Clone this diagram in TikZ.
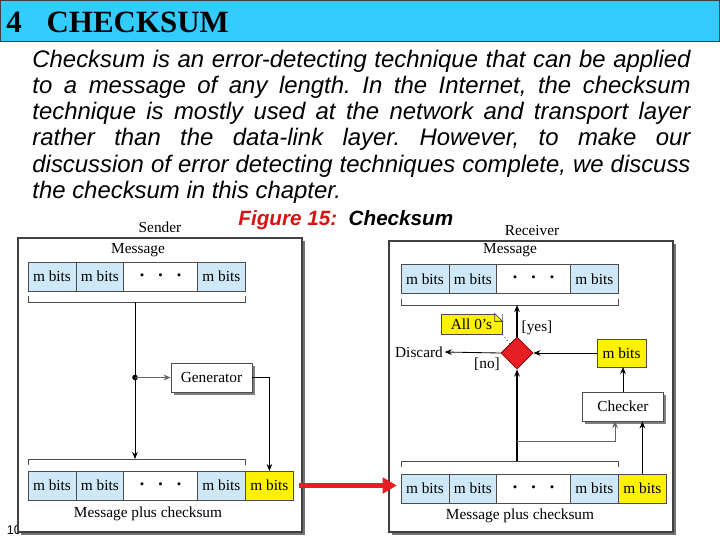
\documentclass[tikz,border=0pt]{standalone}
\usepackage{fontspec}
\setmainfont{Liberation Serif}
\setsansfont{Liberation Sans}
\usetikzlibrary{positioning, shapes.geometric, arrows.meta, shadows}
\frenchspacing

\definecolor{titleblue}{RGB}{51,204,255}
\definecolor{cellblue}{RGB}{207,232,247}
\definecolor{bityellow}{RGB}{255,242,0}
\definecolor{dmdred}{RGB}{232,30,36}
\definecolor{capred}{RGB}{215,20,20}

\newcommand{\diagfont}{\fontsize{10.9}{12}\selectfont}
\newcommand{\threedots}{\small\textbullet\hspace{10pt}\textbullet\hspace{10pt}\textbullet}

\tikzset{
  bitcell/.style={draw=black!70, fill=cellblue, minimum width=34.1pt, minimum height=20.6pt,
    inner sep=0pt, outer sep=0pt, font=\diagfont},
  dotcell/.style={bitcell, fill=white, minimum width=52.3pt},
  sumcell/.style={bitcell, fill=bityellow},
  procbox/.style={draw=black!70, fill=white, minimum width=57.6pt, minimum height=20.6pt,
    inner sep=0pt, font=\diagfont, drop shadow={shadow xshift=2pt, shadow yshift=-2pt, fill=black!50, opacity=1}},
  frame/.style={draw=black!75, fill=white, line width=0.8pt,
    drop shadow={shadow xshift=2.2pt, shadow yshift=-2.2pt, fill=black!55, opacity=1}},
  lbl/.style={font=\diagfont, inner sep=1pt},
}

\begin{document}
\begin{tikzpicture}[x=0.025cm, y=-0.025cm, >={Stealth[length=5pt,width=4pt]}, line width=0.6pt]
\useasboundingbox (0,0) rectangle (720,540);
% title bar
\draw[fill=titleblue, draw=black!75] (0.5,0.5) rectangle (719.5,41);
\node[anchor=base west, inner sep=0pt, font=\bfseries\fontsize{22}{24}\selectfont] (title) at (6,32) {4\hspace{0.8em}CHECKSUM};
% text
\node[anchor=base west, inner sep=0pt, text width=468pt, align=justify,
  font=\sffamily\itshape\fontsize{17}{18.7}\selectfont] (intro) at (32,67)
  {Checksum is an error-detecting technique that can be applied\linebreak
   to a message of any length. In the Internet, the checksum\linebreak
   technique is mostly used at the network and transport layer\linebreak
   rather than the data-link layer. However, to make our\linebreak
   discussion of error detecting techniques complete, we discuss\linebreak
   the checksum in this chapter.};
\node[anchor=base west, inner sep=0pt, font=\sffamily\bfseries\itshape\fontsize{14.7}{16}\selectfont] (caption) at (238,225)
  {\textcolor{capred}{Figure 15:}\ \ Checksum};
% page number
\node[font=\sffamily\fontsize{9}{10}\selectfont, inner sep=0pt] (pagenum) at (14,530) {10};

% sender
\draw[frame] (18,238) rectangle (302,532);
\node[lbl] (sender) at (160,227) {Sender};
\node[lbl] (smsg) at (138,250) {Message};
\node[bitcell, anchor=west] (sm1) at (28,276.5) {m bits};
\node[bitcell, right=0pt of sm1] (sm2) {m bits};
\node[dotcell, right=0pt of sm2] (sdots) {\threedots};
\node[bitcell, right=0pt of sdots] (sm3) {m bits};
\coordinate (sbl) at (28,302);
\coordinate (sbr) at (245.5,302);
\coordinate (stap) at (135,302);
\draw[draw=black!70] (sbl) ++(0,-6) -- (sbl) -- (sbr) -- ++(0,-6);
% sender, message plus checksum
\node[bitcell, anchor=west] (sb1) at (28,485.5) {m bits};
\node[bitcell, right=0pt of sb1] (sb2) {m bits};
\node[dotcell, right=0pt of sb2] (sbdots) {\threedots};
\node[bitcell, right=0pt of sbdots] (sb3) {m bits};
\node[sumcell, right=0pt of sb3] (sck) {m bits};
\coordinate (stl) at (28,459);
\coordinate (str) at (245.5,459);
\coordinate (stop) at (135,459);
\draw[draw=black!70] (stl) ++(0,6) -- (stl) -- (str) -- ++(0,6);
\node[lbl] (splus) at (148,514) {Message plus checksum};
% generator
\node[procbox] (gen) at (211.5,377.5) {Generator};
\coordinate (sdot) at (135,377.5);
\draw[->] (stap) -- (stop);
\fill (sdot) circle (2.8);
\draw[->, black!60] (sdot) -- (gen.west);
\draw[->] (gen.east) -| (sck.north);

% receiver
\draw[frame] (389,241) rectangle (673,532);
\node[lbl] (receiver) at (532,230) {Receiver};
\node[lbl] (rmsg) at (510,250) {Message};
\node[bitcell, anchor=west] (rm1) at (401,279) {m bits};
\node[bitcell, right=0pt of rm1] (rm2) {m bits};
\node[dotcell, right=0pt of rm2] (rdots) {\threedots};
\node[bitcell, right=0pt of rdots] (rm3) {m bits};
\coordinate (rbl) at (401,305);
\coordinate (rbr) at (618.5,305);
\coordinate (rtap) at (517,305);
\draw[draw=black!70] (rbl) ++(0,-6) -- (rbl) -- (rbr) -- ++(0,-6);
% receiver, message plus checksum
\node[bitcell, anchor=west] (rb1) at (401,488.5) {m bits};
\node[bitcell, right=0pt of rb1] (rb2) {m bits};
\node[dotcell, right=0pt of rb2] (rbdots) {\threedots};
\node[bitcell, right=0pt of rbdots] (rb3) {m bits};
\node[sumcell, right=0pt of rb3] (rck2) {m bits};
\coordinate (rtl) at (401,461);
\coordinate (rtr) at (618.5,461);
\coordinate (rtop) at (517,461);
\draw[draw=black!70] (rtl) ++(0,6) -- (rtl) -- (rtr) -- ++(0,6);
\node[lbl] (rplus) at (520,516) {Message plus checksum};
% decision
\node[diamond, draw=red!50!black, fill=dmdred, minimum size=22.8pt, inner sep=0pt] (dmd) at (517,353) {};
\node[sumcell, minimum width=34.8pt, minimum height=19.9pt] (rck) at (621.5,353) {m bits};
\node[procbox] (chk) at (623,406.5) {Checker};
\node[lbl] (discard) at (419,352) {Discard};
\node[lbl] (yes) at (537,328) {[yes]};
\node[lbl] (no) at (487,364) {[no]};
% note
\node[draw=black!70, fill=bityellow, minimum width=43.4pt, minimum height=14.2pt, inner sep=0pt, font=\diagfont] (note) at (471.5,324) {All 0's};
\fill[white] ([xshift=-5.5pt]note.north east) -- (note.north east) -- ([yshift=-5.5pt]note.north east) -- cycle;
\draw[black!70] ([xshift=-5.5pt]note.north east) -- ([yshift=-5.5pt]note.north east)
  -- ([xshift=-5.5pt, yshift=-5.5pt]note.north east) -- cycle;
\draw[dotted, black!70] (note.south east) -- (dmd.center);
% receiver arrows
\coordinate (rsplit) at (517,441);
\coordinate (chkl) at (615,421);
\draw[->, line width=0.9pt] (rtop) -- (dmd.south);
\draw[->, line width=0.9pt] (dmd.north) -- (rtap);
\draw[->] (dmd.west) -- (discard.east);
\draw[->] (rck.west) -- (dmd.east);
\draw[->] (chk.north) -- (chk.north |- rck.south);
\draw[->, black!60] (rsplit) -| (chkl);
\draw[->] (rck2.north) -- (rck2.north |- chk.south);

% red arrow between sender and receiver
\draw[line width=3pt, draw=dmdred, -{Triangle[length=10pt,width=11pt]}]
  ([xshift=4pt]sck.east) -- ([xshift=-3pt]sck.east -| rb1.west);
\end{tikzpicture}
\end{document}
